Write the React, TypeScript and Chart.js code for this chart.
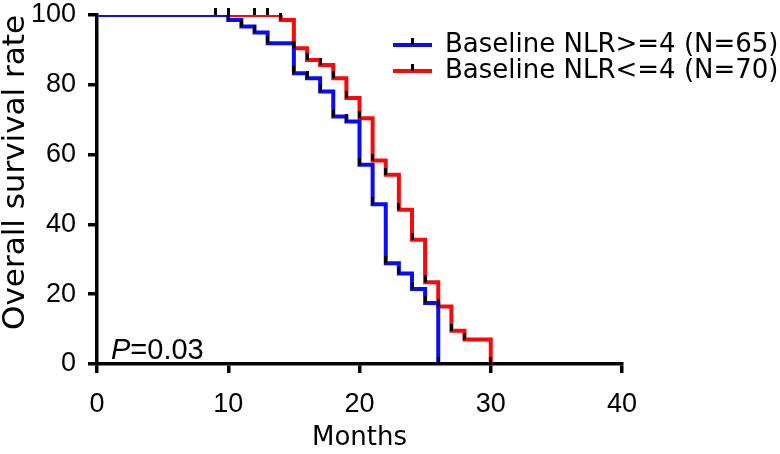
import React, { useEffect, useRef } from 'react';
import { Chart, registerables } from 'chart.js';

Chart.register(...registerables);

// ---------- data ----------
const blueLabel = 'Baseline NLR>=4 (N=65)';
const redLabel = 'Baseline NLR<=4 (N=70)';

const blueTimes = [0, 10, 11, 12, 13, 15, 16, 17, 18, 19, 20, 21, 22, 23, 24, 25, 26];
const blueSurvival = [100, 98.6, 96.7, 95.0, 91.9, 83.3, 81.9, 78.1, 70.9, 69.5, 57.1, 45.8, 28.9, 25.9, 21.5, 17.5, 0];

const redTimes = [0, 14, 15, 16, 17, 18, 19, 20, 21, 22, 23, 24, 25, 26, 27, 28, 30];
const redSurvival = [100, 98.6, 90.5, 87.1, 85.7, 81.9, 76.2, 70.4, 58.3, 54.2, 44.2, 35.6, 23.4, 16.5, 9.5, 7.0, 0];

const blueCensorTimes = [9, 10, 11, 12, 13, 15, 16, 17, 18, 19, 20, 21, 22, 23, 24, 25, 26];
const blueCensorSurvival = [100, 98.6, 96.7, 95.0, 91.9, 83.3, 81.9, 78.1, 70.9, 69.5, 57.1, 45.8, 28.9, 25.9, 21.5, 17.5, 0];

const redCensorTimes = [10, 12, 13, 14, 15, 16, 17, 18, 19, 20, 21, 22, 23, 24, 25, 26, 27, 28, 30];
const redCensorSurvival = [100, 100, 100, 98.6, 90.5, 87.1, 85.7, 81.9, 76.2, 70.4, 58.3, 54.2, 44.2, 35.6, 23.4, 16.5, 9.5, 7.0, 0];

const xTicks = [0, 10, 20, 30, 40];
const yTicks = [0, 20, 40, 60, 80, 100];
const xTitle = 'Months';
const yTitle = 'Overall survival rate';
const pLetter = 'P';
const pRest = '=0.03';

// ---------- style ----------
const BLUE = '#0b0bf5';
const RED = '#f50b0b';
const LINE_W = 4;
const AXIS_W = 3.5;

function makeTickImage(): HTMLCanvasElement {
  const c = document.createElement('canvas');
  c.width = 3;
  c.height = 14;
  const g = c.getContext('2d')!;
  g.fillStyle = '#000';
  g.fillRect(0, 0, 3, 7);
  return c;
}

function makeLegendImage(color: string): HTMLCanvasElement {
  const c = document.createElement('canvas');
  c.width = 39;
  c.height = 16;
  const g = c.getContext('2d')!;
  g.fillStyle = color;
  g.fillRect(0, 6, 39, 4);
  g.fillStyle = '#000';
  g.fillRect(18, 1, 3, 7);
  return c;
}

const toXY = (xs: number[], ys: number[]) => xs.map((x, i) => ({ x, y: ys[i] }));

const legendPlacer = {
  id: 'legendPlacer',
  afterLayout(chart: any) {
    const lg = chart.legend;
    if (!lg) return;
    const w = lg.width;
    const h = lg.height;
    lg.left = 393;
    lg.top = 32;
    lg.right = lg.left + w;
    lg.bottom = lg.top + h;
  },
};

const pValuePlugin = {
  id: 'pValue',
  afterDatasetsDraw(chart: any) {
    const { ctx, scales } = chart;
    const x = scales.x.getPixelForValue(0) + 14;
    const y = scales.y.getPixelForValue(0) - 5;
    ctx.save();
    ctx.fillStyle = '#000';
    ctx.textBaseline = 'alphabetic';
    ctx.textAlign = 'left';
    ctx.font = 'italic 29px "Liberation Sans"';
    ctx.fillText(pLetter, x, y);
    const w = ctx.measureText(pLetter).width;
    ctx.font = '29px "Liberation Sans"';
    ctx.fillText(pRest, x + w, y);
    ctx.restore();
  },
};

export default function App() {
  const ref = useRef<HTMLCanvasElement | null>(null);

  useEffect(() => {
    if (!ref.current) return;
    const tickImg = makeTickImage();
    const blueLeg = makeLegendImage(BLUE);
    const redLeg = makeLegendImage(RED);

    const axisGrid = {
      display: true,
      drawOnChartArea: false,
      drawTicks: true,
      tickLength: 9,
      tickWidth: AXIS_W,
      tickColor: '#000',
      lineWidth: AXIS_W,
      color: '#000',
    };

    const chart = new Chart(ref.current, {
      type: 'line',
      data: {
        datasets: [
          {
            label: 'censorBlue',
            data: toXY(blueCensorTimes, blueCensorSurvival),
            showLine: false,
            pointStyle: tickImg as any,
            pointRadius: 8,
            order: 0,
            clip: false as any,
          },
          {
            label: 'censorRed',
            data: toXY(redCensorTimes, redCensorSurvival),
            showLine: false,
            pointStyle: tickImg as any,
            pointRadius: 8,
            order: 0,
            clip: false as any,
          },
          {
            label: blueLabel,
            data: toXY(blueTimes, blueSurvival),
            borderColor: BLUE,
            backgroundColor: BLUE,
            borderWidth: LINE_W,
            stepped: 'before',
            pointRadius: 0,
            pointStyle: blueLeg as any,
            fill: false,
            order: 1,
            clip: 0 as any,
          },
          {
            label: redLabel,
            data: toXY(redTimes, redSurvival),
            borderColor: RED,
            backgroundColor: RED,
            borderWidth: LINE_W,
            stepped: 'before',
            pointRadius: 0,
            pointStyle: redLeg as any,
            fill: false,
            order: 2,
            clip: 0 as any,
          },
        ],
      },
      options: {
        animation: false,
        responsive: false,
        devicePixelRatio: 1,
        events: [],
        layout: { padding: { top: 15, right: 158, bottom: 0, left: 0 } },
        plugins: {
          tooltip: { enabled: false },
          legend: {
            display: true,
            position: 'chartArea' as any,
            align: 'start',
            labels: {
              usePointStyle: true,
              pointStyleWidth: 39,
              padding: 0,
              color: '#000',
              font: { family: 'DejaVu Sans', size: 26 },
              filter: (item: any) => !String(item.text).startsWith('censor'),
            },
          },
        },
        scales: {
          x: {
            type: 'linear',
            min: 0,
            max: 40,
            afterBuildTicks: (s: any) => {
              s.ticks = xTicks.map((v) => ({ value: v }));
            },
            afterFit: (s: any) => {
              s.height = 90;
              s.paddingLeft = 0;
              s.paddingRight = 0;
            },
            grid: axisGrid as any,
            border: { display: true, color: '#000', width: AXIS_W },
            ticks: {
              color: '#000',
              font: { family: 'Liberation Sans', size: 27 },
              padding: 15,
              maxRotation: 0,
              autoSkip: false,
            },
            title: {
              display: true,
              text: xTitle,
              color: '#000',
              font: { family: 'DejaVu Sans', size: 26, lineHeight: 1 },
              padding: { top: 0, bottom: 3 },
            },
          },
          y: {
            type: 'linear',
            min: 0,
            max: 100,
            afterBuildTicks: (s: any) => {
              s.ticks = yTicks.map((v) => ({ value: v }));
            },
            afterFit: (s: any) => {
              s.width = 97;
              s.paddingTop = 0;
              s.paddingBottom = 0;
            },
            grid: axisGrid as any,
            border: { display: true, color: '#000', width: AXIS_W },
            ticks: {
              color: '#000',
              font: { family: 'Liberation Sans', size: 27 },
              padding: 12,
              autoSkip: false,
            },
            title: {
              display: true,
              text: yTitle,
              color: '#000',
              align: 'end',
              font: { family: 'DejaVu Sans', size: 31, lineHeight: 1 },
              padding: { top: 0, bottom: 0 },
            },
          },
        },
      },
      plugins: [legendPlacer, pValuePlugin],
    });

    return () => chart.destroy();
  }, []);

  return (
    <div style={{ position: 'fixed', left: 0, top: 0, width: 780, height: 454, background: '#fff' }}>
      <canvas ref={ref} width={780} height={454} style={{ display: 'block' }} />
    </div>
  );
}
